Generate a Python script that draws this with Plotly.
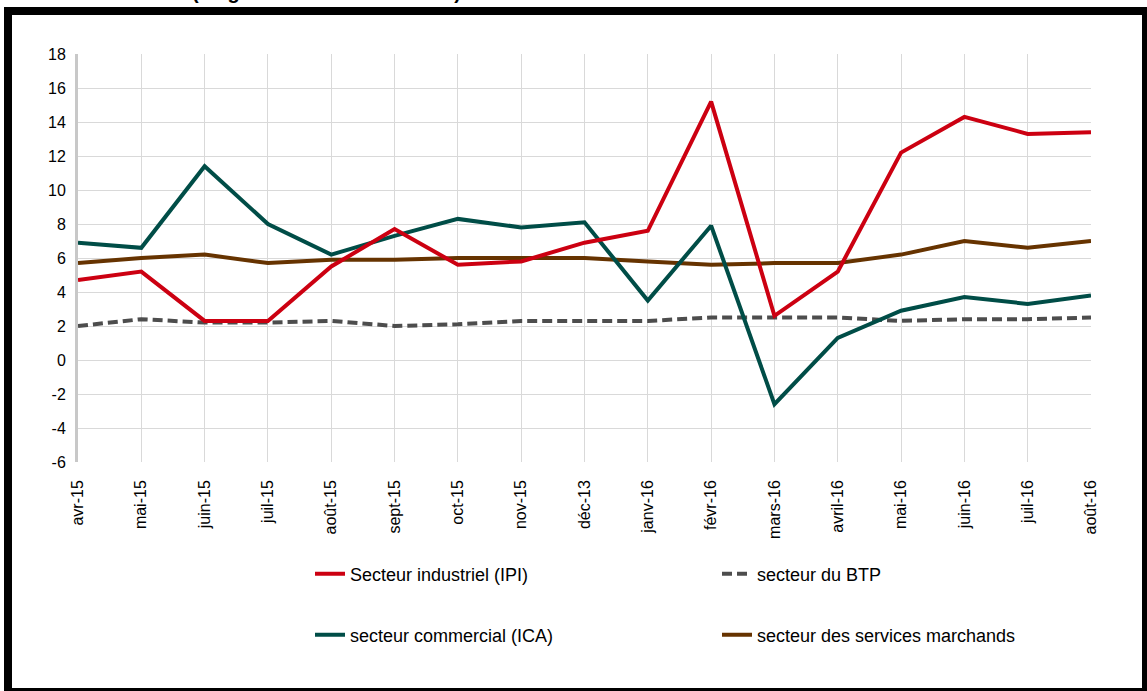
import plotly.graph_objects as go

months = ["avr-15", "mai-15", "juin-15", "juil-15", "août-15", "sept-15", "oct-15",
          "nov-15", "déc-13", "janv-16", "févr-16", "mars-16", "avril-16", "mai-16",
          "juin-16", "juil-16", "août-16"]

ipi = [4.7, 5.2, 2.3, 2.3, 5.5, 7.7, 5.6, 5.8, 6.9, 7.6, 15.2, 2.6, 5.2, 12.2, 14.3, 13.3, 13.4]
btp = [2.0, 2.4, 2.2, 2.2, 2.3, 2.0, 2.1, 2.3, 2.3, 2.3, 2.5, 2.5, 2.5, 2.3, 2.4, 2.4, 2.5]
ica = [6.9, 6.6, 11.4, 8.0, 6.2, 7.3, 8.3, 7.8, 8.1, 3.5, 7.9, -2.6, 1.3, 2.9, 3.7, 3.3, 3.8]
services = [5.7, 6.0, 6.2, 5.7, 5.9, 5.9, 6.0, 6.0, 6.0, 5.8, 5.6, 5.7, 5.7, 6.2, 7.0, 6.6, 7.0]

y_ticks = [-6, -4, -2, 0, 2, 4, 6, 8, 10, 12, 14, 16, 18]
y_tick_text = ["-6", "-4", "-2", "0", "2", "4", "6", "8", "10", "12", "14", "16", "18"]

W, H = 1147, 691
L, R, T, B = 78, 56, 54, 229
pw, ph = W - L - R, H - T - B


def px_x(x):
    return (x - L) / pw


def px_y(y):
    return (H - B - y) / ph


fig = go.Figure()
# services drawn first so the other lines sit on top
fig.add_trace(go.Scatter(x=months, y=services, name="secteur des services marchands",
                         mode="lines", line=dict(color="#663300", width=4),
                         legend="legend2", cliponaxis=False))
fig.add_trace(go.Scatter(x=months, y=btp, name="secteur du BTP",
                         mode="lines", line=dict(color="#4d4d4d", width=4, dash="10px,5px"),
                         legend="legend", cliponaxis=False))
fig.add_trace(go.Scatter(x=months, y=ica, name="secteur commercial (ICA)",
                         mode="lines", line=dict(color="#004d47", width=4),
                         legend="legend2", cliponaxis=False))
fig.add_trace(go.Scatter(x=months, y=ipi, name="Secteur industriel (IPI)",
                         mode="lines", line=dict(color="#cc0011", width=4),
                         legend="legend", cliponaxis=False))

family = "Liberation Sans, Arial, sans-serif"
tick_font = dict(family=family, size=16, color="#000000")
leg_font = dict(family=family, size=18, color="#000000")
leg = dict(orientation="h", x=px_x(310), xanchor="left", yanchor="middle",
           font=leg_font, entrywidth=362, traceorder="reversed", bgcolor="rgba(0,0,0,0)")

fig.update_layout(
    width=W, height=H,
    margin=dict(l=L, r=R, t=T, b=B),
    paper_bgcolor="white", plot_bgcolor="white",
    font=tick_font,
    hovermode=False,
    legend=dict(leg, y=px_y(574)),
    legend2=dict(leg, y=px_y(635)),
    shapes=[dict(type="rect", xref="paper", yref="paper",
                 x0=px_x(8), x1=px_x(1146), y0=px_y(692), y1=px_y(11),
                 line=dict(color="black", width=8), fillcolor="rgba(0,0,0,0)", layer="above")],
    annotations=[dict(text="<b>Évolution des indicateurs sectoriels (en glissement annuel en %)</b>",
                      xref="paper", yref="paper", x=px_x(463), y=px_y(5.5),
                      xanchor="right", yanchor="bottom", showarrow=False,
                      font=dict(family=family, size=20, color="black"))],
)

fig.update_xaxes(range=[0, 16], showgrid=True, gridcolor="#d9d9d9", gridwidth=1,
                 tickangle=-90, ticks="", ticklabelstandoff=14, showline=False,
                 zeroline=False, tickfont=tick_font)
fig.update_yaxes(range=[-6, 18], tickvals=y_ticks, ticktext=y_tick_text,
                 showgrid=True, gridcolor="#d9d9d9", gridwidth=1,
                 zeroline=False, showline=True, linecolor="#c8c8c8", linewidth=3,
                 ticks="", ticklabelstandoff=6, tickfont=tick_font)

fig.write_html("out.html", config={"displayModeBar": False},
               post_script="document.body.style.margin='0px';")
